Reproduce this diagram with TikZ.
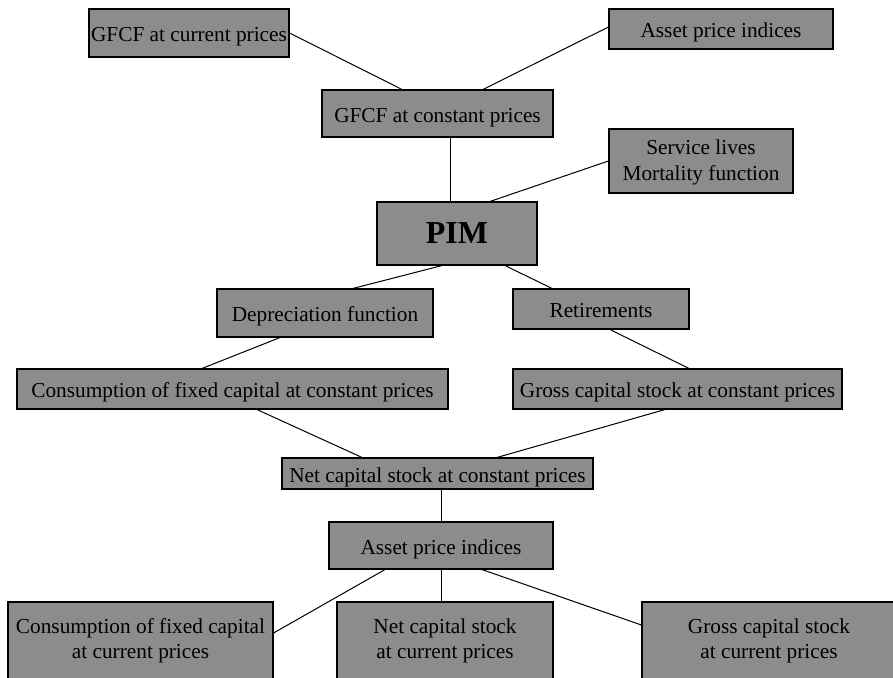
\documentclass[tikz,border=0pt]{standalone}
\usepackage{fontspec}
\setmainfont{Liberation Serif}
\usetikzlibrary{calc}
\definecolor{boxgray}{RGB}{140,140,140}
\tikzset{
  box/.style={draw=black, line width=1.1pt, fill=boxgray, inner sep=0pt, align=center,
    font=\fontsize{21.3}{25.5}\selectfont, text=black},
  oneline/.style={text height=20pt, text depth=3pt},
  link/.style={draw=black, line width=1pt}
}
\begin{document}
\begin{tikzpicture}[x=1pt,y=-1pt]
\useasboundingbox (0,0) rectangle (893,677);
\clip (0,0) rectangle (893,677);
\node[box, oneline, minimum width=200pt, minimum height=48pt] (gcur) at (189,33) {GFCF at current prices};
\node[box, oneline, minimum width=224pt, minimum height=40pt] (apt) at (721,29) {Asset price indices};
\node[box, oneline, minimum width=231pt, minimum height=47pt] (gcon) at (437.5,113.5) {GFCF at constant prices};
\node[box, minimum width=184pt, minimum height=64pt] (slv) at (701,161) {\rule{0pt}{18pt}Service lives\\Mortality function};
\node[box, minimum width=160pt, minimum height=63pt, font=\fontsize{32}{36}\selectfont\bfseries] (pim) at (457,233.5) {PIM};
\node[box, oneline, minimum width=216pt, minimum height=48pt] (dep) at (325,313) {Depreciation function};
\node[box, oneline, minimum width=176pt, minimum height=40pt] (ret) at (601,309) {Retirements};
\node[box, oneline, minimum width=431pt, minimum height=40pt] (cfc) at (232.5,389) {Consumption of fixed capital at constant prices};
\node[box, oneline, minimum width=329pt, minimum height=40pt] (gcs) at (677.5,389) {Gross capital stock at constant prices};
\node[box, oneline, minimum width=311pt, minimum height=31pt] (ncs) at (437.5,473.5) {Net capital stock at constant prices};
\node[box, oneline, minimum width=224pt, minimum height=47pt] (apm) at (441,545.5) {Asset price indices};
\node[box, minimum width=265pt, minimum height=78pt] (bl) at (140.5,641) {Consumption of fixed capital\\at current prices};
\node[box, minimum width=216pt, minimum height=78pt] (bm) at (445,641) {Net capital stock\\at current prices};
\node[box, minimum width=254pt, minimum height=78pt] (br) at (769,641) {Gross capital stock\\at current prices};

\draw[link] (gcur.east) -- ($(gcon.north)+(-35.5,0)$);
\draw[link] ($(apt.west)+(0,-2)$) -- ($(gcon.north)+(45.5,0)$);
\draw[link] ($(gcon.south)+(12.5,0)$) -- ($(pim.north)+(-7,0)$);
\draw[link] (slv.west) -- ($(pim.north)+(33,0)$);
\draw[link] ($(pim.south)+(-15,0)$) -- ($(dep.north)+(28,0)$);
\draw[link] ($(pim.south)+(48,0)$) -- ($(ret.north)+(-49,0)$);
\draw[link] ($(dep.south)+(-45,0)$) -- ($(cfc.north)+(-30.5,0)$);
\draw[link] ($(ret.south)+(9,0)$) -- ($(gcs.north)+(11.5,0)$);
\draw[link] ($(cfc.south)+(24.5,0)$) -- ($(ncs.north)+(-75.5,0)$);
\draw[link] ($(gcs.south)+(-12.5,0)$) -- ($(ncs.north)+(59.5,0)$);
\draw[link] ($(ncs.south)+(3.5,0)$) -- (apm.north);
\draw[link] ($(apm.south)+(-56,0)$) -- ($(bl.east)+(0,-8)$);
\draw[link] (apm.south) -- ($(bm.north)+(-4,0)$);
\draw[link] ($(apm.south)+(41,0)$) -- ($(br.west)+(0,-16)$);
\end{tikzpicture}
\end{document}
